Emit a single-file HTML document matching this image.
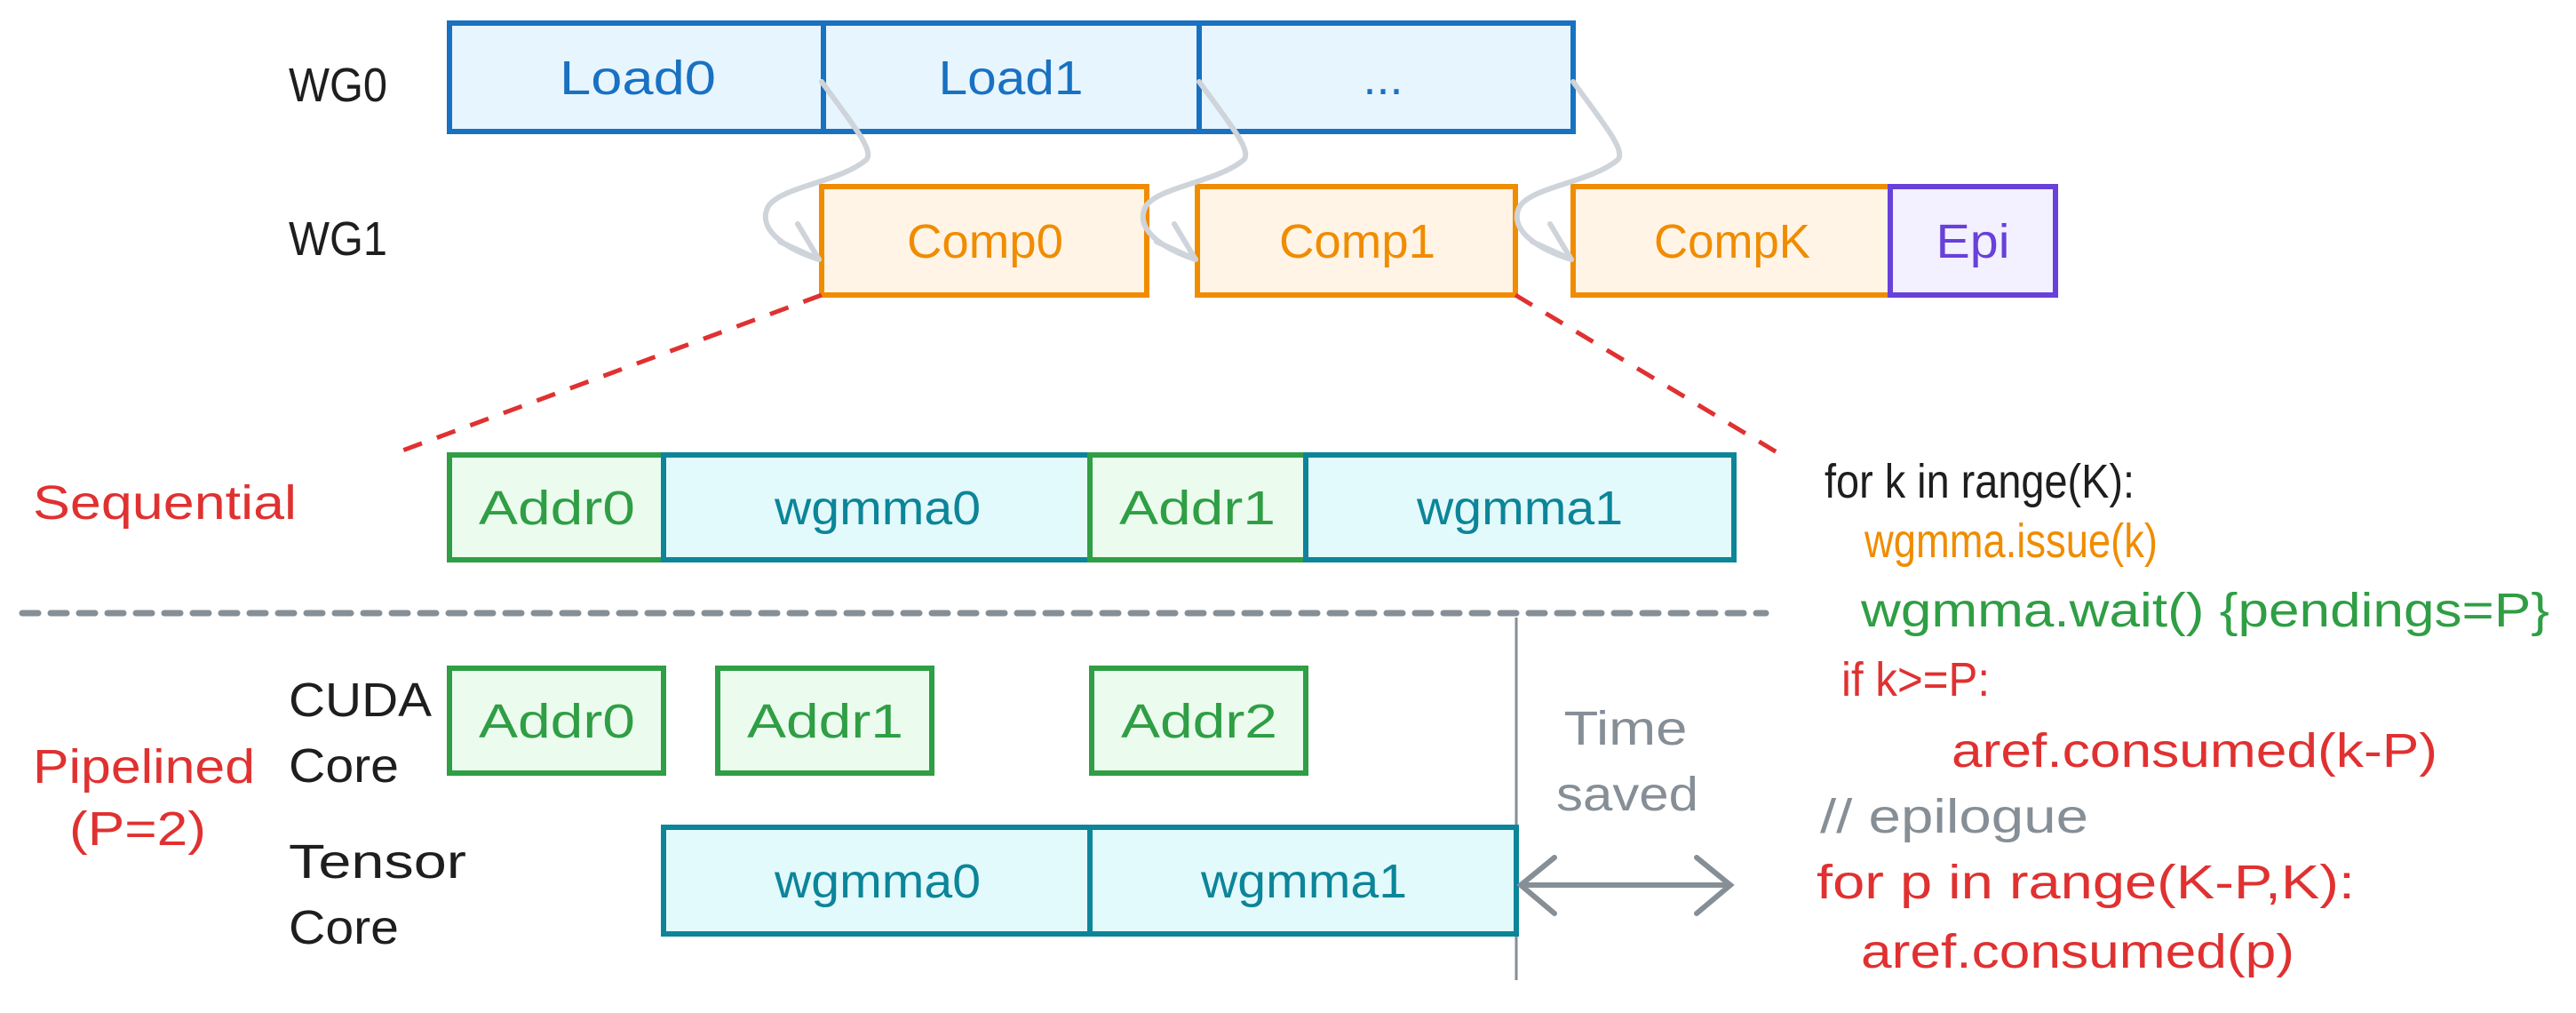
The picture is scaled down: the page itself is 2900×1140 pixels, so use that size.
<!DOCTYPE html>
<html><head><meta charset="utf-8"><style>
html,body{margin:0;padding:0;background:#fff;}
svg{display:block;}
text{font-family:"Liberation Sans",sans-serif;font-size:54px;}
</style></head><body>
<svg width="2900" height="1140" viewBox="0 0 2900 1140" xmlns="http://www.w3.org/2000/svg">
<!-- WG0 loads -->
<g stroke="#1971c2" stroke-width="6" fill="#e7f5ff">
<rect x="506" y="26" width="421" height="122"/>
<rect x="927" y="26" width="423" height="122"/>
<rect x="1350" y="26" width="421" height="122"/>
</g>
<!-- WG1 -->
<g stroke-width="6">
<rect x="925" y="210" width="366" height="122" fill="#fff4e6" stroke="#f08c00"/>
<rect x="1348" y="210" width="358" height="122" fill="#fff4e6" stroke="#f08c00"/>
<rect x="1771" y="210" width="357" height="122" fill="#fff4e6" stroke="#f08c00"/>
<rect x="2128" y="210" width="186" height="122" fill="#f3f0ff" stroke="#6741d9"/>
</g>
<!-- curved arrows -->
<g fill="none" stroke="#ced4da" stroke-width="6" stroke-linecap="round" stroke-linejoin="round">
<path d="M925 92 C960 140 985 170 975 180 C945 205 880 210 865 232 C850 260 890 282 922 292"/>
<path d="M878 272 L922 292 L898 252"/>
<path d="M1350 92 C1385 140 1410 170 1400 180 C1370 205 1305 210 1290 232 C1275 260 1315 282 1346 292"/>
<path d="M1302 272 L1346 292 L1322 252"/>
<path d="M1771 92 C1806 140 1831 170 1821 180 C1791 205 1726 210 1711 232 C1696 260 1736 282 1769 292"/>
<path d="M1725 272 L1769 292 L1745 252"/>
</g>
<!-- red dashed -->
<g stroke="#e03131" stroke-width="5" stroke-dasharray="22 18" fill="none">
<line x1="925" y1="332" x2="445" y2="510"/>
<line x1="1706" y1="332" x2="2002" y2="510"/>
</g>
<!-- sequential boxes -->
<g stroke-width="6">
<rect x="506" y="512" width="241" height="118" fill="#ebfbee" stroke="#2f9e44"/>
<rect x="747" y="512" width="480" height="118" fill="#e3fafc" stroke="#0c8599"/>
<rect x="1227" y="512" width="243" height="118" fill="#ebfbee" stroke="#2f9e44"/>
<rect x="1470" y="512" width="482" height="118" fill="#e3fafc" stroke="#0c8599"/>
</g>
<line x1="25" y1="690" x2="1988" y2="690" stroke="#868e96" stroke-width="7" stroke-dasharray="18 14" stroke-linecap="round"/>
<line x1="1707" y1="695" x2="1707" y2="1103" stroke="#868e96" stroke-width="3"/>
<!-- pipelined -->
<g stroke-width="6">
<rect x="506" y="752" width="241" height="118" fill="#ebfbee" stroke="#2f9e44"/>
<rect x="808" y="752" width="241" height="118" fill="#ebfbee" stroke="#2f9e44"/>
<rect x="1229" y="752" width="241" height="118" fill="#ebfbee" stroke="#2f9e44"/>
<rect x="747" y="931" width="480" height="120" fill="#e3fafc" stroke="#0c8599"/>
<rect x="1227" y="931" width="480" height="120" fill="#e3fafc" stroke="#0c8599"/>
</g>
<!-- double arrow -->
<g stroke="#868e96" stroke-width="6" fill="none" stroke-linecap="round">
<line x1="1712" y1="996" x2="1948" y2="996"/>
<path d="M1750 965 L1712 996 L1750 1028"/>
<path d="M1910 965 L1948 996 L1910 1028"/>
</g>
<!-- text -->
<g text-anchor="middle">
<text x="718" y="106" fill="#1971c2" textLength="176" lengthAdjust="spacingAndGlyphs">Load0</text>
<text x="1138" y="106" fill="#1971c2" textLength="163" lengthAdjust="spacingAndGlyphs">Load1</text>
<text x="1557" y="106" fill="#1971c2">...</text>
<text x="1109" y="290" fill="#f08c00" textLength="176" lengthAdjust="spacingAndGlyphs">Comp0</text>
<text x="1528" y="290" fill="#f08c00" textLength="176" lengthAdjust="spacingAndGlyphs">Comp1</text>
<text x="1950" y="290" fill="#f08c00" textLength="176" lengthAdjust="spacingAndGlyphs">CompK</text>
<text x="2221" y="290" fill="#6741d9" textLength="83" lengthAdjust="spacingAndGlyphs">Epi</text>
<text x="627" y="590" fill="#2f9e44" textLength="176" lengthAdjust="spacingAndGlyphs">Addr0</text>
<text x="988" y="590" fill="#0c8599" textLength="232" lengthAdjust="spacingAndGlyphs">wgmma0</text>
<text x="1348" y="590" fill="#2f9e44" textLength="176" lengthAdjust="spacingAndGlyphs">Addr1</text>
<text x="1711" y="590" fill="#0c8599" textLength="232" lengthAdjust="spacingAndGlyphs">wgmma1</text>
<text x="627" y="830" fill="#2f9e44" textLength="176" lengthAdjust="spacingAndGlyphs">Addr0</text>
<text x="929" y="830" fill="#2f9e44" textLength="176" lengthAdjust="spacingAndGlyphs">Addr1</text>
<text x="1350" y="830" fill="#2f9e44" textLength="176" lengthAdjust="spacingAndGlyphs">Addr2</text>
<text x="988" y="1010" fill="#0c8599" textLength="232" lengthAdjust="spacingAndGlyphs">wgmma0</text>
<text x="1468" y="1010" fill="#0c8599" textLength="232" lengthAdjust="spacingAndGlyphs">wgmma1</text>
<text x="1830" y="838" fill="#868e96" textLength="139" lengthAdjust="spacingAndGlyphs">Time</text>
<text x="1832" y="912" fill="#868e96" textLength="160" lengthAdjust="spacingAndGlyphs">saved</text>
</g>
<g>
<text x="325" y="114" fill="#1e1e1e" textLength="111" lengthAdjust="spacingAndGlyphs">WG0</text>
<text x="325" y="287" fill="#1e1e1e" textLength="111" lengthAdjust="spacingAndGlyphs">WG1</text>
<text x="37" y="584" fill="#e03131" textLength="297" lengthAdjust="spacingAndGlyphs">Sequential</text>
<text x="37" y="881" fill="#e03131" textLength="250" lengthAdjust="spacingAndGlyphs">Pipelined</text>
<text x="78" y="951" fill="#e03131" textLength="154" lengthAdjust="spacingAndGlyphs">(P=2)</text>
<text x="325" y="806" fill="#1e1e1e" textLength="161" lengthAdjust="spacingAndGlyphs">CUDA</text>
<text x="325" y="880" fill="#1e1e1e" textLength="124" lengthAdjust="spacingAndGlyphs">Core</text>
<text x="325" y="988" fill="#1e1e1e" textLength="200" lengthAdjust="spacingAndGlyphs">Tensor</text>
<text x="325" y="1062" fill="#1e1e1e" textLength="124" lengthAdjust="spacingAndGlyphs">Core</text>
<text x="2054" y="560" fill="#1e1e1e" textLength="349" lengthAdjust="spacingAndGlyphs">for k in range(K):</text>
<text x="2099" y="627" fill="#f08c00" textLength="330" lengthAdjust="spacingAndGlyphs">wgmma.issue(k)</text>
<text x="2095" y="705" fill="#2f9e44" textLength="775" lengthAdjust="spacingAndGlyphs">wgmma.wait() {pendings=P}</text>
<text x="2073" y="783" fill="#e03131" textLength="167" lengthAdjust="spacingAndGlyphs">if k&gt;=P:</text>
<text x="2197" y="863" fill="#e03131" textLength="547" lengthAdjust="spacingAndGlyphs">aref.consumed(k-P)</text>
<text x="2049" y="937" fill="#868e96" textLength="302" lengthAdjust="spacingAndGlyphs">// epilogue</text>
<text x="2045" y="1011" fill="#e03131" textLength="606" lengthAdjust="spacingAndGlyphs">for p in range(K-P,K):</text>
<text x="2095" y="1089" fill="#e03131" textLength="488" lengthAdjust="spacingAndGlyphs">aref.consumed(p)</text>
</g>
</svg>
</body></html>
